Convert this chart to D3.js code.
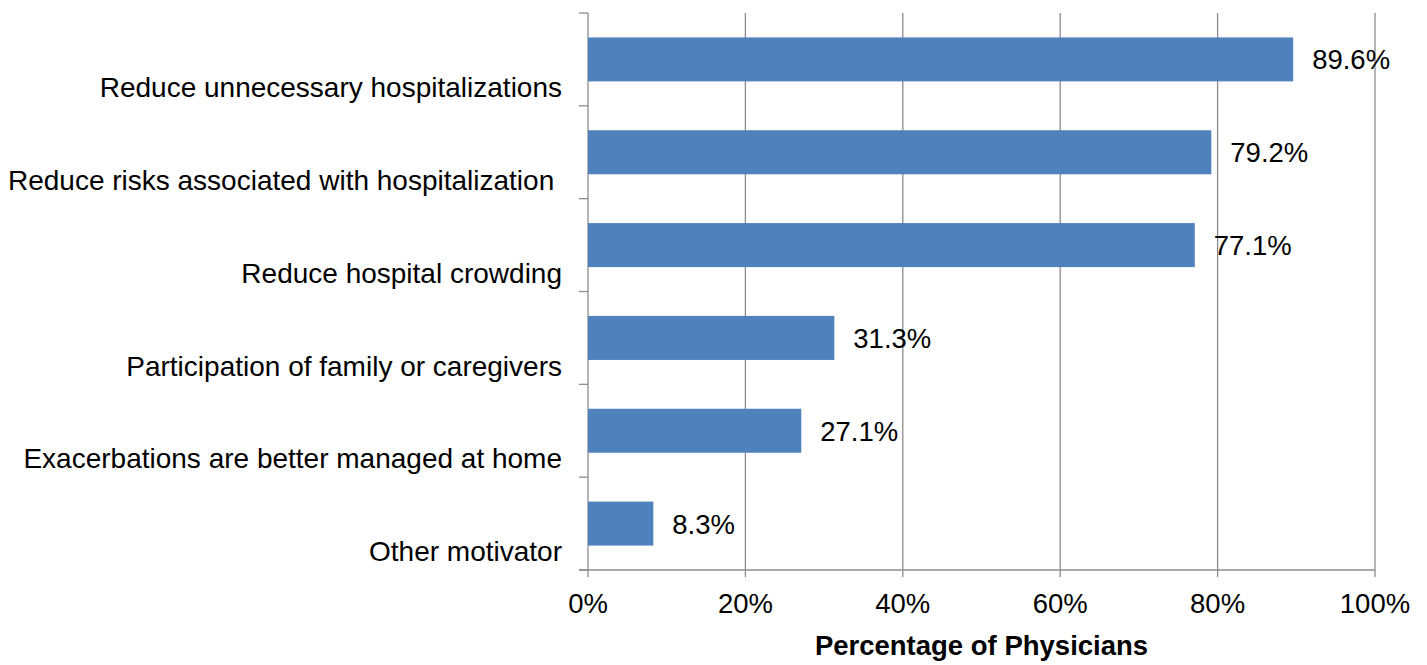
<!DOCTYPE html>
<html>
<head>
<meta charset="utf-8">
<script src="https://cdn.jsdelivr.net/npm/d3@7"></script>
<style>
    body { margin: 0; background: #fff; }
    svg text { font-family: "Liberation Sans", Arial, sans-serif; fill: #000; white-space: pre; }
</style>
</head>
<body>
<div id="chart"></div>
<script>
    var categories = [
        "Reduce unnecessary hospitalizations",
        "Reduce risks associated with hospitalization ",
        "Reduce hospital crowding",
        "Participation of family or caregivers",
        "Exacerbations are better managed at home",
        "Other motivator"
    ];
    var values = [89.6, 79.2, 77.1, 31.3, 27.1, 8.3];
    var xTicks = [0, 20, 40, 60, 80, 100];
    var xTitle = "Percentage of Physicians";

    var width = 1427, height = 665;
    var margin = {top: 13, left: 588, right: 52, bottom: 95};
    var plotW = width - margin.left - margin.right,
        plotH = height - margin.top - margin.bottom;
    var fs = 27.5;

    var svg = d3.select("#chart").append("svg")
        .attr("width", width).attr("height", height);
    var g = svg.append("g")
        .attr("transform", "translate(" + margin.left + "," + margin.top + ")");

    var x = d3.scaleLinear().domain([0, 100]).range([0, plotW]);
    var y = d3.scaleBand().domain(categories).range([0, plotH])
        .paddingInner(0.526).paddingOuter(0.263);
    var step = y.step();

    // vertical gridlines
    g.selectAll(".grid").data(xTicks).enter().append("line")
        .attr("x1", d => x(d)).attr("x2", d => x(d))
        .attr("y1", 0).attr("y2", plotH + 7)
        .attr("stroke", "#8c8c8c").attr("stroke-width", 1.3);

    // category boundary ticks on the y axis
    var bounds = d3.range(categories.length + 1);
    g.selectAll(".ytick").data(bounds).enter().append("line")
        .attr("x1", -9).attr("x2", 0)
        .attr("y1", d => d * step).attr("y2", d => d * step)
        .attr("stroke", "#8c8c8c").attr("stroke-width", 1.3);

    // x axis line
    g.append("line")
        .attr("x1", -9).attr("x2", plotW)
        .attr("y1", plotH).attr("y2", plotH)
        .attr("stroke", "#8c8c8c").attr("stroke-width", 1.3);

    // bars
    g.selectAll(".bar").data(values).enter().append("rect")
        .attr("x", 0)
        .attr("y", (d, i) => y(categories[i]))
        .attr("width", d => x(d))
        .attr("height", y.bandwidth())
        .attr("fill", "#4f81bd");

    // value labels
    g.selectAll(".val").data(values).enter().append("text")
        .attr("x", d => x(d) + 19)
        .attr("y", (d, i) => y(categories[i]) + y.bandwidth() / 2 + 10)
        .attr("font-size", fs)
        .text(d => d.toFixed(1) + "%");

    // category labels
    g.selectAll(".cat").data(categories).enter().append("text")
        .attr("x", -26)
        .attr("y", (d, i) => i * step + 84)
        .attr("text-anchor", "end")
        .attr("font-size", 28)
        .text(d => d);

    // x tick labels
    g.selectAll(".xlab").data(xTicks).enter().append("text")
        .attr("x", d => x(d))
        .attr("y", plotH + 43)
        .attr("text-anchor", "middle")
        .attr("font-size", fs)
        .text(d => d + "%");

    // x axis title
    g.append("text")
        .attr("x", plotW / 2)
        .attr("y", plotH + 85)
        .attr("text-anchor", "middle")
        .attr("font-size", 27.5)
        .attr("font-weight", "bold")
        .text(xTitle);
</script>
</body>
</html>
